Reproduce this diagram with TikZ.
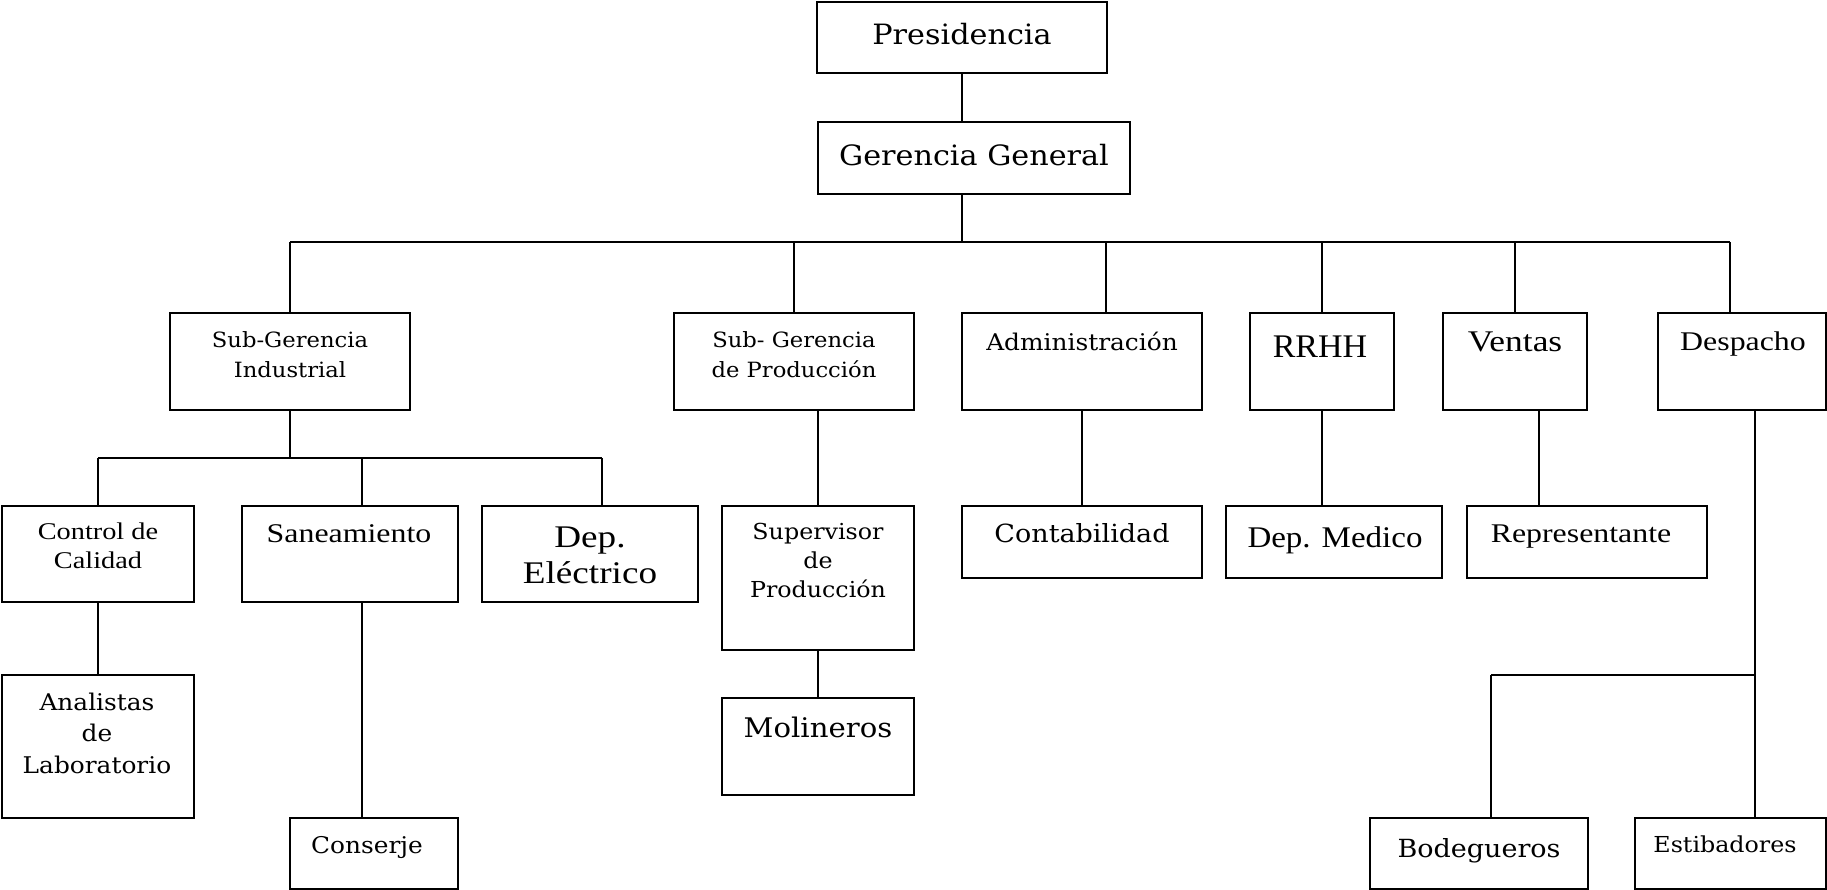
\documentclass[tikz,border=0pt]{standalone}
\usepackage{fontspec}
\newfontfamily\schA[FakeStretch=1.08]{DejaVu Serif}
\newfontfamily\tmsA[FakeStretch=1.18]{Liberation Serif}
\newfontfamily\tmsB[FakeStretch=1.03]{Liberation Serif}
\newfontfamily\tmsC[FakeStretch=1.1]{Liberation Serif}
\tikzset{
  box/.style={draw=black, line width=2pt, inner sep=0pt, outer sep=0pt, rectangle},
  lbl/.style={anchor=base, align=center, inner sep=0pt, outer sep=0pt},
  conn/.style={draw=black, line width=2pt},
}
\newcommand\bx[5]{\node[box, minimum width={(#4-#2)*1pt}, minimum height={(#5-#3)*1pt}] (#1) at ({(#2+#4)/2},{(#3+#5)/2}) {};}
\begin{document}
\begin{tikzpicture}[x=1pt,y=-1pt]
\useasboundingbox (0,0) rectangle (1827,890);
% boxes
\bx{pres}{817}{2}{1107}{73}
\bx{gg}{818}{122}{1130}{194}
\bx{sgi}{170}{313}{410}{410}
\bx{sgp}{674}{313}{914}{410}
\bx{adm}{962}{313}{1202}{410}
\bx{rrhh}{1250}{313}{1394}{410}
\bx{ven}{1443}{313}{1587}{410}
\bx{desp}{1658}{313}{1826}{410}
\bx{ctrl}{2}{506}{194}{602}
\bx{san}{242}{506}{458}{602}
\bx{elec}{482}{506}{698}{602}
\bx{sup}{722}{506}{914}{650}
\bx{cont}{962}{506}{1202}{578}
\bx{med}{1226}{506}{1442}{578}
\bx{rep}{1467}{506}{1707}{578}
\bx{anal}{2}{675}{194}{818}
\bx{cons}{290}{818}{458}{889}
\bx{mol}{722}{698}{914}{795}
\bx{bod}{1370}{818}{1588}{889}
\bx{est}{1635}{818}{1826}{889}
% labels (anchor = baseline of the last line)
\node[lbl, font={\schA\fontsize{28}{34}\selectfont}] (tpres) at (962,45) {Presidencia};
\node[lbl, font={\schA\fontsize{28}{34}\selectfont}] (tgg) at (974,166) {Gerencia General};
\node[lbl, font={\schA\fontsize{21}{30}\selectfont}] (tsgi) at (290,377) {Sub-Gerencia\\Industrial};
\node[lbl, font={\schA\fontsize{21}{30}\selectfont}] (tsgp) at (794,377) {Sub- Gerencia\\de Producción};
\node[lbl, font={\schA\fontsize{23}{28}\selectfont}] (tadm) at (1082,350) {Administración};
\node[lbl, font={\tmsB\fontsize{33}{40}\selectfont}] (trrhh) at (1320,357) {RRHH};
\node[lbl, font={\tmsA\fontsize{30}{36}\selectfont}] (tven) at (1515,352) {Ventas};
\node[lbl, font={\tmsA\fontsize{27}{32}\selectfont}] (tdesp) at (1743,350) {Despacho};
\node[lbl, font={\tmsA\fontsize{24}{29}\selectfont}] (tctrl) at (98,568) {Control de\\Calidad};
\node[lbl, font={\tmsA\fontsize{27}{32}\selectfont}] (tsan) at (349,542) {Saneamiento};
\node[lbl, font={\tmsA\fontsize{31.5}{36}\selectfont}] (telec) at (590,583) {Dep.\\Eléctrico};
\node[lbl, font={\schA\fontsize{22}{29}\selectfont}] (tsup) at (818,597) {Supervisor\\de\\Producción};
\node[lbl, font={\schA\fontsize{25}{30}\selectfont}] (tcont) at (1082,542) {Contabilidad};
\node[lbl, font={\tmsC\fontsize{30}{36}\selectfont}] (tmed) at (1335,547) {Dep. Medico};
\node[lbl, font={\tmsA\fontsize{27}{32}\selectfont}] (trep) at (1581,542) {Representante};
\node[lbl, font={\schA\fontsize{23}{31.5}\selectfont}] (tanal) at (97,773) {Analistas\\de\\Laboratorio};
\node[lbl, font={\schA\fontsize{23}{28}\selectfont}] (tcons) at (367,853) {Conserje};
\node[lbl, font={\schA\fontsize{27}{32}\selectfont}] (tmol) at (818,737) {Molineros};
\node[lbl, font={\schA\fontsize{25}{30}\selectfont}] (tbod) at (1479,857) {Bodegueros};
\node[lbl, font={\schA\fontsize{22}{28}\selectfont}] (test) at (1725,852) {Estibadores};
% bus coordinates
\coordinate (busL) at (290,242);
\coordinate (busR) at (1730,242);
\coordinate (admT) at (1106,242);
\coordinate (subL) at (98,458);
\coordinate (subR) at (602,458);
\coordinate (sanX) at (362,458);
\coordinate (sgpX) at (818,410);
\coordinate (venX) at (1539,410);
\coordinate (despX) at (1755,410);
\coordinate (dbus) at (1491,675);
% connectors
\draw[conn] (pres.south) -- (pres.south |- gg.north);
\draw[conn] (pres.south |- gg.south) -- (pres.south |- busL);
\draw[conn] (busL) -- (busR);
\draw[conn] (busL) -- (busL |- sgi.north);
\draw[conn] (sgp.north |- busL) -- (sgp.north);
\draw[conn] (admT) -- (admT |- adm.north);
\draw[conn] (rrhh.north |- busL) -- (rrhh.north);
\draw[conn] (ven.north |- busL) -- (ven.north);
\draw[conn] (busR) -- (busR |- desp.north);
\draw[conn] (sgi.south) -- (sgi.south |- subL);
\draw[conn] (subL) -- (subR);
\draw[conn] (subL) -- (subL |- ctrl.north);
\draw[conn] (sanX) -- (sanX |- san.north);
\draw[conn] (subR) -- (subR |- elec.north);
\draw[conn] (ctrl.south) -- (ctrl.south |- anal.north);
\draw[conn] (sanX |- san.south) -- (sanX |- cons.north);
\draw[conn] (sgpX) -- (sgpX |- sup.north);
\draw[conn] (sup.south) -- (sup.south |- mol.north);
\draw[conn] (adm.south) -- (adm.south |- cont.north);
\draw[conn] (rrhh.south) -- (rrhh.south |- med.north);
\draw[conn] (venX) -- (venX |- rep.north);
\draw[conn] (despX) -- (despX |- est.north);
\draw[conn] (dbus) -- (despX |- dbus);
\draw[conn] (dbus) -- (dbus |- bod.north);
\end{tikzpicture}
\end{document}
